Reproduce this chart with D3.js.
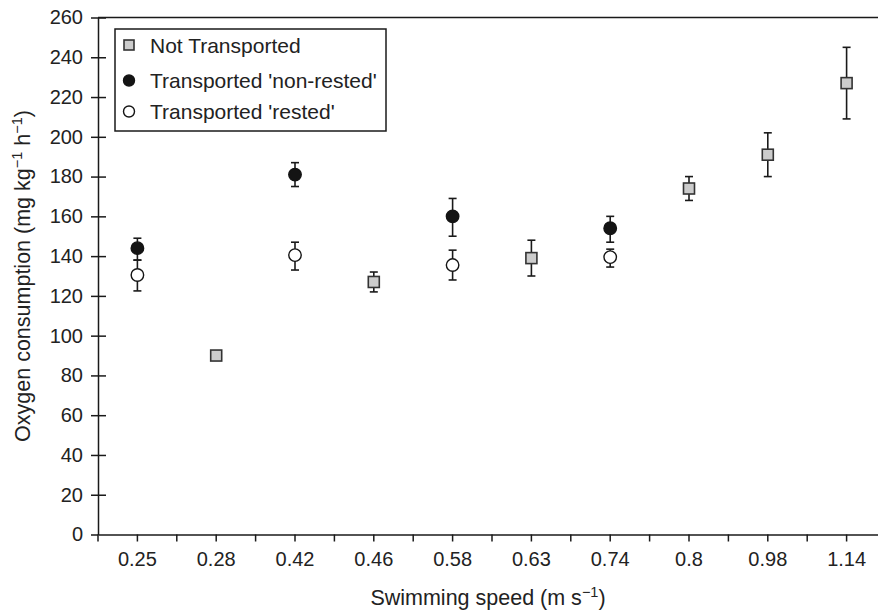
<!DOCTYPE html>
<html>
<head>
<meta charset="utf-8">
<script src="https://cdn.jsdelivr.net/npm/d3@7"></script>
<style>
  body { margin: 0; background: #fff; }
  svg { display: block; font-family: "Liberation Sans", Arial, sans-serif; }
</style>
</head>
<body>
<script>
// categories on the x axis (swimming speed, m/s)
const speeds = ["0.25", "0.28", "0.42", "0.46", "0.58", "0.63", "0.74", "0.8", "0.98", "1.14"];
const yTicks = [0, 20, 40, 60, 80, 100, 120, 140, 160, 180, 200, 220, 240, 260];

// Not Transported
const notSpeeds = ["0.28", "0.46", "0.63", "0.8", "0.98", "1.14"];
const notMean = [90, 127, 139, 174, 191, 227];
const notLo = [null, 122, 130, 168, 180, 209];
const notHi = [null, 132, 148, 180, 202, 245];

// Transported 'non-rested'
const nonSpeeds = ["0.25", "0.42", "0.58", "0.74"];
const nonMean = [144, 181, 160, 154];
const nonLo = [138, 175, 150, 147];
const nonHi = [149, 187, 169, 160];

// Transported 'rested'
const restSpeeds = ["0.25", "0.42", "0.58", "0.74"];
const restMean = [130.5, 140.5, 135.5, 139.5];
const restLo = [122.5, 133, 128, 134.5];
const restHi = [138, 147, 143, 143.5];

const width = 878, height = 611;
const mLeft = 98, mRight = 886, mTop = 17.5, mBottom = 534.5;
const ink = "#1a1a1a";

const svg = d3.select("body").append("svg")
    .attr("width", width)
    .attr("height", height);

const x = d3.scaleBand().domain(speeds).range([mLeft, mRight]).padding(0);
const y = d3.scaleLinear().domain([0, 260]).range([mBottom, mTop]);

// top frame line
svg.append("line")
    .attr("x1", mLeft).attr("x2", width)
    .attr("y1", y(260)).attr("y2", y(260))
    .attr("stroke", ink).attr("stroke-width", 1.5);

// x axis
const xAxis = svg.append("g")
    .attr("transform", `translate(0,${mBottom})`)
    .call(d3.axisBottom(x).tickSize(7).tickSizeOuter(0).tickPadding(10));
xAxis.selectAll(".tick text").style("font-size", "20px").attr("fill", "#222");
xAxis.selectAll("line, path").attr("stroke", ink).attr("stroke-width", 1.5);
// ticks on the band edges too
xAxis.selectAll(".edge")
    .data(speeds)
    .join("line")
    .attr("class", "edge")
    .attr("x1", d => x(d)).attr("x2", d => x(d))
    .attr("y1", 0).attr("y2", 7)
    .attr("stroke", ink).attr("stroke-width", 1.5);

// y axis (ticks cross the axis line)
const yAxis = svg.append("g")
    .attr("transform", `translate(${mLeft},0)`)
    .call(d3.axisLeft(y).tickValues(yTicks).tickSize(7).tickSizeOuter(0).tickPadding(8));
yAxis.selectAll(".tick text").style("font-size", "20px").attr("fill", "#222");
yAxis.selectAll(".tick").filter(d => d > 0)
    .append("line").attr("x1", 0).attr("x2", 8);
yAxis.selectAll("line, path").attr("stroke", ink).attr("stroke-width", 1.5);

// axis titles
const xt = svg.append("text")
    .attr("x", (mLeft + width) / 2).attr("y", 605)
    .attr("text-anchor", "middle")
    .style("font-size", "21.5px").attr("fill", "#222");
xt.append("tspan").text("Swimming speed (m s");
xt.append("tspan").attr("dy", -8).style("font-size", "14.5px").text("\u22121");
xt.append("tspan").attr("dy", 8).text(")");

const yt = svg.append("text")
    .attr("transform", `translate(30,${(mTop + mBottom) / 2}) rotate(-90)`)
    .attr("text-anchor", "middle")
    .style("font-size", "21.5px").attr("fill", "#222");
yt.append("tspan").text("Oxygen consumption (mg kg");
yt.append("tspan").attr("dy", -8).style("font-size", "14.5px").text("\u22121");
yt.append("tspan").attr("dy", 8).text(" h");
yt.append("tspan").attr("dy", -8).style("font-size", "14.5px").text("\u22121");
yt.append("tspan").attr("dy", 8).text(")");

function pack(sp, m, lo, hi) {
  return sp.map((s, i) => ({ s, m: m[i], lo: lo[i], hi: hi[i] }));
}
const groups = [
  { key: "not", data: pack(notSpeeds, notMean, notLo, notHi) },
  { key: "non", data: pack(nonSpeeds, nonMean, nonLo, nonHi) },
  { key: "rest", data: pack(restSpeeds, restMean, restLo, restHi) }
];

const cx = d => x(d.s) + x.bandwidth() / 2;
const cap = 4;

groups.forEach(g => {
  const bars = svg.append("g").attr("stroke", ink).attr("stroke-width", 1.6)
    .selectAll("g")
    .data(g.data.filter(d => d.lo != null))
    .join("g");
  bars.append("line")
      .attr("x1", cx).attr("x2", cx)
      .attr("y1", d => y(d.lo)).attr("y2", d => y(d.hi));
  bars.append("line")
      .attr("x1", d => cx(d) - cap).attr("x2", d => cx(d) + cap)
      .attr("y1", d => y(d.hi)).attr("y2", d => y(d.hi));
  bars.append("line")
      .attr("x1", d => cx(d) - cap).attr("x2", d => cx(d) + cap)
      .attr("y1", d => y(d.lo)).attr("y2", d => y(d.lo));
});

function marker(sel, key, size) {
  if (key === "not") {
    sel.append("rect")
        .attr("x", -size / 2).attr("y", -size / 2)
        .attr("width", size).attr("height", size)
        .attr("fill", "#cccccc").attr("stroke", "#333").attr("stroke-width", 1.6);
  } else {
    sel.append("circle")
        .attr("r", size / 2)
        .attr("fill", key === "non" ? "#141414" : "#fff")
        .attr("stroke", "#141414").attr("stroke-width", 1.4);
  }
}

groups.forEach(g => {
  svg.append("g").selectAll("g")
    .data(g.data)
    .join("g")
    .attr("transform", d => `translate(${cx(d)},${y(d.m)})`)
    .each(function() { marker(d3.select(this), g.key, g.key === "not" ? 11 : 12.5); });
});

// legend
const legend = svg.append("g");
legend.append("rect")
    .attr("x", 115).attr("y", 29).attr("width", 271).attr("height", 102)
    .attr("fill", "#fff").attr("stroke", ink).attr("stroke-width", 1.5);
const legendLabels = ["Not Transported", "Transported 'non-rested'", "Transported 'rested'"];
const legendKeys = ["not", "non", "rest"];
const legendY = [45, 80.5, 111.5];
legendKeys.forEach((k, i) => {
  const row = legend.append("g").attr("transform", `translate(129,${legendY[i]})`);
  marker(row, k, k === "not" ? 10 : 11);
  row.append("text")
      .attr("x", 21).attr("dy", "0.36em")
      .style("font-size", "21px").attr("fill", "#222")
      .text(legendLabels[i]);
});
</script>
</body>
</html>
